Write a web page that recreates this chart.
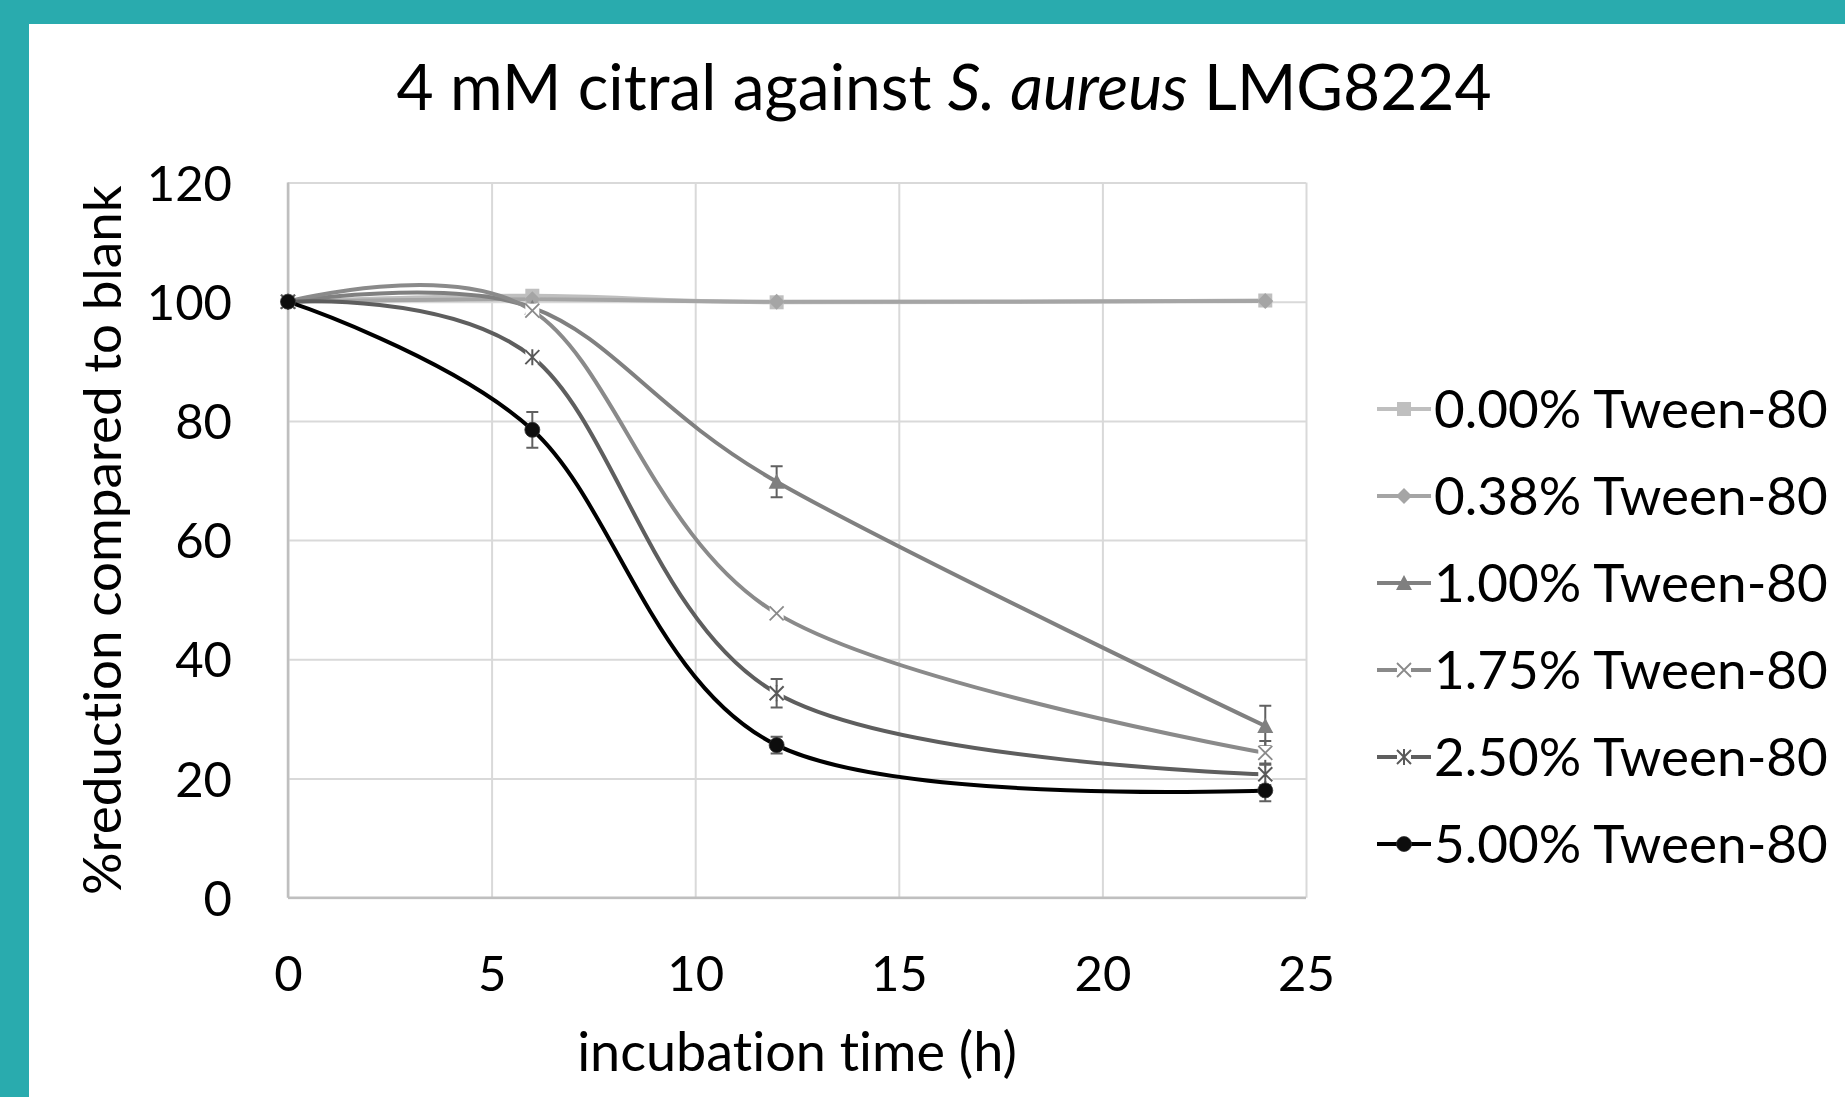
<!DOCTYPE html>
<html lang="en">
  <head>
    <meta charset="UTF-8" />
    <title>4 mM citral against S. aureus LMG8224</title>
    <style type="text/css">
      html,
      body {
        margin: 0;
        padding: 0;
        background: #fff;
      }

      svg {
        display: block;
      }

      text {
        font-family: Lato, "Open Sans", sans-serif;
        font-variant-ligatures: none;
        fill: #000;
      }
    </style>
  </head>
  <body>
    <div id="chart"></div>

    <script src="https://d3js.org/d3.v7.min.js"></script>
    <script>
      // === Data === //

      var hours = [0, 6, 12, 24];

      var seriesLabels = [
        "0.00% Tween-80",
        "0.38% Tween-80",
        "1.00% Tween-80",
        "1.75% Tween-80",
        "2.50% Tween-80",
        "5.00% Tween-80"
      ];

      // %reduction compared to blank, one array per Tween-80 level
      var tween000 = [100, 101.0, 99.9, 100.2];
      var tween038 = [100, 100.4, 100.0, 100.1];
      var tween100 = [100, 99.0, 69.8, 28.8];
      var tween175 = [100, 98.5, 47.7, 24.3];
      var tween250 = [100, 90.7, 34.3, 20.7];
      var tween500 = [100, 78.5, 25.6, 18.0];

      // error bar half widths
      var err000 = [0, 0.4, 0.4, 0.4];
      var err038 = [0, 0.4, 0.4, 0.4];
      var err100 = [0, 0.5, 2.6, 3.4];
      var err175 = [0, 0.5, 0.5, 2.0];
      var err250 = [0, 0.8, 2.4, 1.8];
      var err500 = [0, 3.0, 1.4, 1.8];

      var xTicks = [0, 5, 10, 15, 20, 25];
      var yTicks = [0, 20, 40, 60, 80, 100, 120];

      // === Layout === //

      var width = 1845,
        height = 1097;

      var plot = { left: 288, right: 1306, top: 182.5, bottom: 897.7 };

      var teal = "#29abae";

      var styles = [
        { line: "#bfbfbf", mark: "square", fill: "#bfbfbf" },
        { line: "#a5a5a5", mark: "diamond", fill: "#a5a5a5" },
        { line: "#808080", mark: "triangle", fill: "#7f7f7f" },
        { line: "#8a8a8a", mark: "cross", fill: "#8a8a8a" },
        { line: "#5e5e5e", mark: "star", fill: "#595959" },
        { line: "#000000", mark: "circle", fill: "#0d0d0d" }
      ];

      var values = [tween000, tween038, tween100, tween175, tween250, tween500];
      var errors = [err000, err038, err100, err175, err250, err500];

      var series = seriesLabels.map(function(name, i) {
        return {
          name: name,
          style: styles[i],
          points: hours.map(function(h, j) {
            return { h: h, v: values[i][j], e: errors[i][j] };
          })
        };
      });

      var x = d3
        .scaleLinear()
        .domain([0, 25])
        .range([plot.left, plot.right]);

      var y = d3
        .scaleLinear()
        .domain([0, 120])
        .range([plot.bottom, plot.top]);

      // === Canvas === //

      var svg = d3
        .select("#chart")
        .append("svg")
        .attr("width", width)
        .attr("height", height);

      svg
        .append("rect")
        .attr("width", width)
        .attr("height", height)
        .attr("fill", teal);

      svg
        .append("rect")
        .attr("x", 29)
        .attr("y", 24)
        .attr("width", width - 29)
        .attr("height", height - 24)
        .attr("fill", "#fff");

      // === Title === //

      var title = svg
        .append("text")
        .attr("x", 944)
        .attr("y", 110)
        .attr("text-anchor", "middle")
        .style("font-size", "64px");

      title.append("tspan").text("4 mM citral against ");
      title
        .append("tspan")
        .style("font-style", "italic")
        .text("S. aureus");
      title.append("tspan").text(" LMG8224");

      // === Axes & grid === //

      var yAxis = svg
        .append("g")
        .attr("transform", "translate(" + plot.left + ",0)")
        .call(
          d3
            .axisLeft(y)
            .tickValues(yTicks)
            .tickSize(-(plot.right - plot.left))
            .tickPadding(56)
        );

      var xAxis = svg
        .append("g")
        .attr("transform", "translate(0," + plot.bottom + ")")
        .call(
          d3
            .axisBottom(x)
            .tickValues(xTicks)
            .tickSize(-(plot.bottom - plot.top))
            .tickPadding(59)
        );

      [xAxis, yAxis].forEach(function(ax) {
        ax.select(".domain").remove();
        ax.selectAll(".tick line")
          .attr("stroke", "#d9d9d9")
          .attr("stroke-width", 2);
        ax.selectAll(".tick text")
          .style("font-size", "49px")
          .style("font-family", "Lato, sans-serif")
          .attr("fill", "#000");
      });

      yAxis.selectAll(".tick text").attr("dy", "0.36em");

      // axis lines
      svg
        .append("line")
        .attr("x1", plot.left)
        .attr("x2", plot.left)
        .attr("y1", plot.top)
        .attr("y2", plot.bottom)
        .attr("stroke", "#bfbfbf")
        .attr("stroke-width", 2.5);

      svg
        .append("line")
        .attr("x1", plot.left)
        .attr("x2", plot.right)
        .attr("y1", plot.bottom)
        .attr("y2", plot.bottom)
        .attr("stroke", "#bfbfbf")
        .attr("stroke-width", 2.5);

      svg
        .append("text")
        .attr("x", (plot.left + plot.right) / 2)
        .attr("y", 1071)
        .attr("text-anchor", "middle")
        .style("font-size", "54px")
        .text("incubation time (h)");

      svg
        .append("text")
        .attr(
          "transform",
          "translate(121," + (plot.top + plot.bottom) / 2 + ") rotate(-90)"
        )
        .attr("text-anchor", "middle")
        .style("font-size", "53px")
        .text("%reduction compared to blank");

      // === Markers === //

      function drawMarker(g, kind, cx, cy, colour) {
        var m = g.append("g").attr("transform", "translate(" + cx + "," + cy + ")");
        if (kind === "square") {
          m.append("rect")
            .attr("x", -7)
            .attr("y", -7)
            .attr("width", 14)
            .attr("height", 14)
            .attr("fill", colour);
        } else if (kind === "diamond") {
          m.append("path")
            .attr("d", "M0,-8L8,0L0,8L-8,0Z")
            .attr("fill", colour);
        } else if (kind === "triangle") {
          m.append("path")
            .attr("d", "M0,-8L8,7L-8,7Z")
            .attr("fill", colour);
        } else if (kind === "cross") {
          m.append("rect")
            .attr("x", -7)
            .attr("y", -7)
            .attr("width", 14)
            .attr("height", 14)
            .attr("fill", "#fff");
          m.append("path")
            .attr("d", "M-7,-7L7,7M7,-7L-7,7")
            .attr("stroke", colour)
            .attr("stroke-width", 1.8)
            .attr("fill", "none");
        } else if (kind === "star") {
          m.append("rect")
            .attr("x", -7)
            .attr("y", -7)
            .attr("width", 14)
            .attr("height", 14)
            .attr("fill", "#fff");
          m.append("path")
            .attr("d", "M-7,-7L7,7M7,-7L-7,7M0,-8L0,8")
            .attr("stroke", colour)
            .attr("stroke-width", 2)
            .attr("fill", "none");
        } else {
          m.append("circle")
            .attr("r", 7.5)
            .attr("fill", colour)
            .attr("stroke", "#333")
            .attr("stroke-width", 0.8);
        }
      } // drawMarker()

      // === Series === //

      var line = d3
        .line()
        .x(function(d) {
          return x(d.h);
        })
        .y(function(d) {
          return y(d.v);
        })
        .curve(d3.curveCardinal.tension(0));

      var lines = svg.append("g");
      var bars = svg.append("g");
      var marks = svg.append("g");

      series.forEach(function(s) {
        lines
          .append("path")
          .attr("d", line(s.points))
          .attr("fill", "none")
          .attr("stroke", s.style.line)
          .attr("stroke-width", 4);

        s.points.forEach(function(p) {
          if (p.e <= 0) return;
          var xp = x(p.h),
            y1 = y(p.v + p.e),
            y2 = y(p.v - p.e);
          bars
            .append("path")
            .attr(
              "d",
              "M" + xp + "," + y1 + "V" + y2 +
                "M" + (xp - 6) + "," + y1 + "H" + (xp + 6) +
                "M" + (xp - 6) + "," + y2 + "H" + (xp + 6)
            )
            .attr("stroke", "#606060")
            .attr("stroke-width", 2)
            .attr("fill", "none");
        });

        s.points.forEach(function(p) {
          drawMarker(marks, s.style.mark, x(p.h), y(p.v), s.style.fill);
        });
      });

      // === Legend === //

      var legend = svg.append("g");
      var rowY = d3
        .scalePoint()
        .domain(seriesLabels)
        .range([409, 844]);

      series.forEach(function(s) {
        var ry = rowY(s.name);
        legend
          .append("line")
          .attr("x1", 1377)
          .attr("x2", 1431)
          .attr("y1", ry)
          .attr("y2", ry)
          .attr("stroke", s.style.line)
          .attr("stroke-width", 4);
        drawMarker(legend, s.style.mark, 1404, ry, s.style.fill);
        legend
          .append("text")
          .attr("x", 1434)
          .attr("y", ry)
          .attr("dy", "0.36em")
          .style("font-size", "53px")
          .text(s.name);
      });
    </script>
  </body>
</html>
